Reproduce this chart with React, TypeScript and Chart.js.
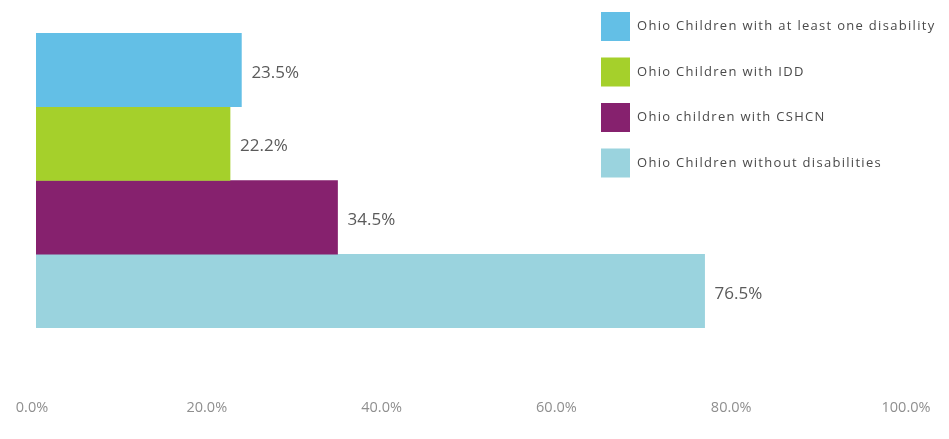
import React, { useEffect, useRef } from "react";
import { Chart, registerables } from "chart.js";

Chart.register(...registerables);

const categories: string[] = [""];
const seriesNames: string[] = [
  "Ohio Children with at least one disability",
  "Ohio Children with IDD",
  "Ohio children with CSHCN",
  "Ohio Children without disabilities",
];
const seriesValues: number[] = [23.5, 22.2, 34.5, 76.5];
const seriesColors: string[] = ["#63bfe6", "#a5d02b", "#86216e", "#9ad3de"];
const xTicks: number[] = [0, 20, 40, 60, 80, 100];

const valueLabelPlugin = {
  id: "valueLabels",
  afterDatasetsDraw(chart: any) {
    const ctx = chart.ctx;
    ctx.save();
    ctx.font = "17px 'Open Sans'";
    ctx.fillStyle = "#5a5a5a";
    ctx.textAlign = "left";
    ctx.textBaseline = "middle";
    chart.data.datasets.forEach((ds: any, i: number) => {
      const meta = chart.getDatasetMeta(i);
      meta.data.forEach((el: any, j: number) => {
        const v = ds.data[j] as number;
        ctx.fillText(v.toFixed(1) + "%", el.x + 10, el.y + 3);
      });
    });
    ctx.restore();
  },
};

const legendPlugin = {
  id: "customLegend",
  afterDraw(chart: any) {
    const ctx = chart.ctx;
    ctx.save();
    const bx = 601;
    const by = 12;
    const size = 29;
    const gap = 45.5;
    ctx.font = "13px 'Open Sans'";
    try {
      (ctx as any).letterSpacing = "1.3px";
    } catch (e) {}
    ctx.textBaseline = "middle";
    ctx.textAlign = "left";
    chart.data.datasets.forEach((ds: any, i: number) => {
      const y = by + i * gap;
      ctx.fillStyle = ds.backgroundColor;
      ctx.fillRect(bx, y, size, size);
      ctx.fillStyle = "#4a4a4a";
      ctx.fillText(ds.label, bx + 36, y + size / 2);
    });
    ctx.restore();
  },
};

export default function App() {
  const ref = useRef<HTMLCanvasElement | null>(null);
  useEffect(() => {
    if (!ref.current) return;
    const chart = new Chart(ref.current, {
      type: "bar",
      data: {
        labels: categories,
        datasets: seriesNames.map((name, i) => ({
          label: name,
          data: [seriesValues[i]],
          backgroundColor: seriesColors[i],
          borderWidth: 0,
          categoryPercentage: 1,
          barPercentage: 1,
        })),
      },
      options: {
        indexAxis: "y",
        animation: false,
        responsive: true,
        maintainAspectRatio: false,
        layout: { padding: { top: 33, left: 36, right: 39, bottom: 23 } },
        plugins: {
          legend: { display: false },
          tooltip: { enabled: false },
        },
        scales: {
          x: {
            min: 0,
            max: 100,
            afterBuildTicks: (scale: any) => {
              scale.ticks = xTicks.map((v) => ({ value: v }));
            },
            afterFit: (scale: any) => {
              scale.paddingLeft = 0;
              scale.paddingRight = 0;
              scale.paddingTop = 0;
              scale.paddingBottom = 0;
              scale.height = 88;
            },
            grid: { display: false, drawTicks: false },
            border: { display: false },
            ticks: {
              padding: 71,
              labelOffset: -4,
              color: "#8f8f8f",
              font: { family: "'Open Sans'", size: 14.5 },
              callback: (v: any) => Number(v).toFixed(1) + "%",
            },
          },
          y: {
            display: false,
            grid: { display: false },
          },
        },
      },
      plugins: [valueLabelPlugin, legendPlugin],
    });
    return () => chart.destroy();
  }, []);
  return (
    <div style={{ position: "fixed", left: 0, top: 0, width: 949, height: 439, background: "#fff" }}>
      <canvas ref={ref} />
    </div>
  );
}
